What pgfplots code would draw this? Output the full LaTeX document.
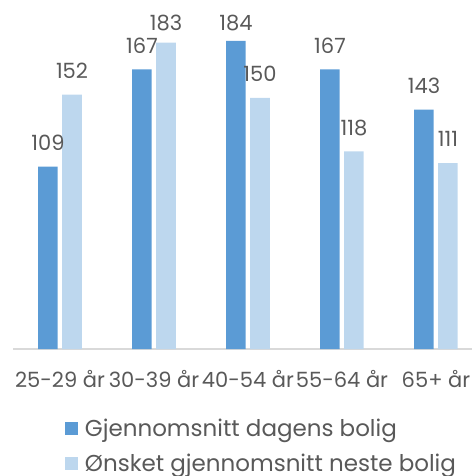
\documentclass[border=0pt]{standalone}
\usepackage{pgfplots}
\usepackage{pgfplotstable}
\pgfplotsset{compat=1.18}
\usepackage{fontspec}
\setmainfont{Poppins}
\definecolor{dark}{HTML}{5B9BD5}
\definecolor{light}{HTML}{BDD7EE}
\definecolor{txt}{HTML}{595959}
\definecolor{axl}{HTML}{D9D9D9}
\pgfplotstableread{
x v
0 109
1 167
2 184
3 167
4 143
}\dagens
\pgfplotstableread{
x v
0 152
1 183
2 150
3 118
4 111
}\onsket
\newcommand{\lbl}{\fontsize{21bp}{25bp}\selectfont}
\newcommand{\leg}{\fontsize{23bp}{27bp}\selectfont}
\begin{document}
\begin{tikzpicture}
\begin{axis}[
 name=ax,
 scale only axis,
 width=470bp, height=334.8bp,
 xmin=-0.5, xmax=4.5, ymin=0, ymax=200,
 ybar=4.5bp, bar width=19.5bp,
 axis y line=none,
 axis x line*=bottom,
 x axis line style={draw=axl, line width=1.2bp, -},
 xtick={0,...,4},
 xticklabels={25-29 år,30-39 år,40-54 år,55-64 år,65+ år},
 major tick length=0pt,
 xticklabel style={font=\lbl, text=txt, anchor=base, inner sep=0pt, yshift=-38bp},
 /pgf/number format/assume math mode=true,
 nodes near coords,
 visualization depends on={\thisrow{v} \as \rawy},
 every node near coord/.append style={font=\lbl, text=txt, anchor=base, inner sep=0pt, yshift={min(16.5,(190-\rawy)*1.674)}},
 clip=false,
 legend style={draw=none, fill=none, inner sep=0pt, outer sep=0pt,
   at={(0.1106,-0.2142)}, anchor=north west, row sep=19bp,
   nodes={inner sep=0pt, text height=16bp, text depth=0bp, font=\leg, text=txt}},
 legend cell align=left,
]
\addplot[fill=dark, draw=none, legend image code/.code={\fill[dark] (0bp,-6.5bp) rectangle (13bp,6.5bp); \path (20bp,0bp);}] table[x=x, y=v] {\dagens};
\addlegendentry{Gjennomsnitt dagens bolig}
\addplot[fill=light, draw=none, legend image code/.code={\fill[light] (0bp,-6.5bp) rectangle (13bp,6.5bp); \path (20bp,0bp);}] table[x=x, y=v] {\onsket};
\addlegendentry{Ønsket gjennomsnitt neste bolig}
\end{axis}
\pgfresetboundingbox
\path ([shift={(-13bp,-127bp)}]ax.south west) rectangle ([shift={(459bp,349bp)}]ax.south west);
\end{tikzpicture}
\end{document}
